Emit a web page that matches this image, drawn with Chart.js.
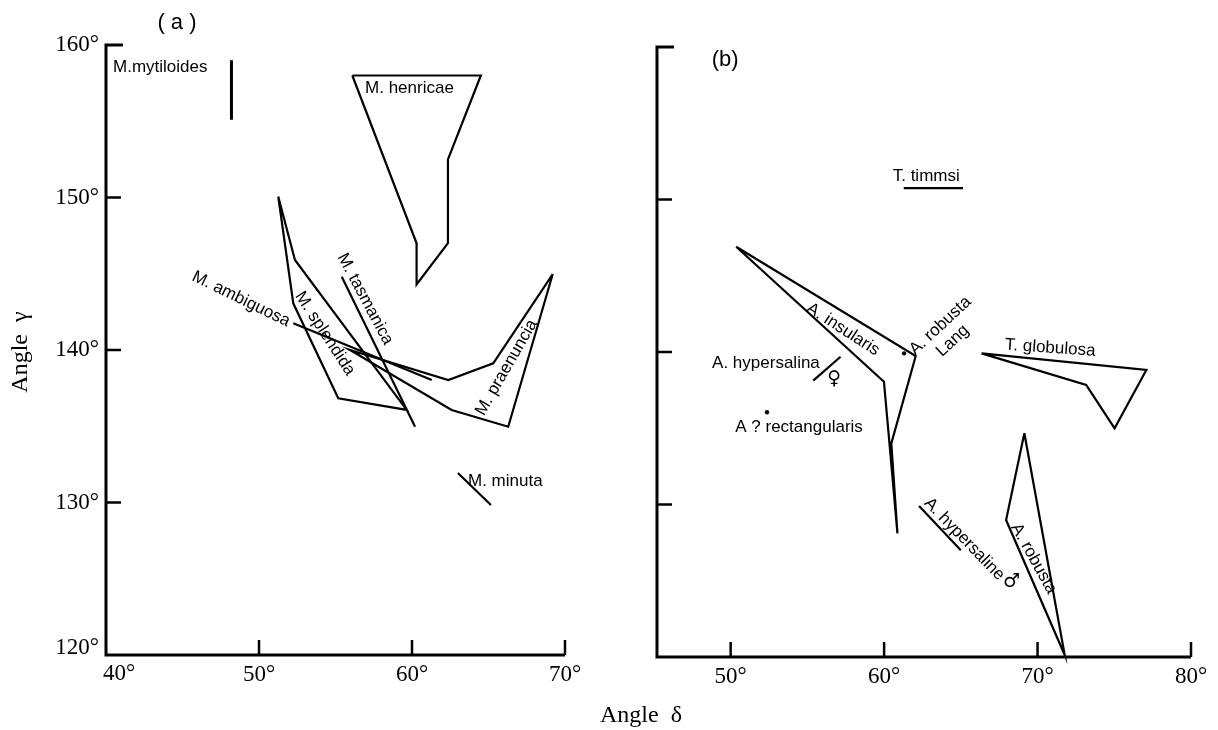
<!DOCTYPE html>
<html><head><meta charset="utf-8">
<script src="https://cdn.jsdelivr.net/npm/chart.js@4.4.1/dist/chart.umd.min.js"></script>
<style>
html,body{margin:0;padding:0;background:#fff;}
#wrap{position:relative;width:1218px;height:730px;overflow:hidden;}
.layer{position:absolute;left:0;top:0;width:1218px;height:730px;}
canvas{display:block;}
</style></head><body>
<div id="wrap">
  <div class="layer"><canvas id="ca" width="1218" height="730"></canvas></div>
  <div class="layer" style="pointer-events:none"><canvas id="cb" width="1218" height="730"></canvas></div>
</div>
<script>
// ---------- tick values ----------
const gammaTicks  = [160, 150, 140, 130, 120];
const deltaTicksA = [40, 50, 60, 70];
const deltaTicksB = [50, 60, 70, 80];

// ---------- panel (a) (angle delta, angle gamma) ----------
const mytiloidesDelta = [48.2, 48.2];
const mytiloidesGamma = [159.0, 155.1];

const henricaeDelta = [56.1, 64.5, 62.35, 62.35, 60.3, 60.3, 56.1];
const henricaeGamma = [158.0, 158.0, 152.5, 147.0, 144.3, 147.0, 158.0];

const splendidaDelta = [51.26, 52.35, 59.65, 55.18, 52.24, 51.26];
const splendidaGamma = [150.05, 145.9, 136.07, 136.83, 143.06, 150.05];

const tasmanicaDelta = [55.41, 60.2];
const tasmanicaGamma = [144.81, 134.97];

const ambiguosaDelta = [52.24, 61.29];
const ambiguosaGamma = [141.75, 138.03];

const praenunciaDelta = [69.2, 65.31, 62.37, 55.95, 62.59, 66.29, 69.2];
const praenunciaGamma = [144.98, 139.13, 138.03, 140.0, 136.07, 134.97, 144.98];

const minutaDelta = [63.0, 65.16];
const minutaGamma = [131.93, 129.84];

// ---------- panel (b) ----------
const timmsiDelta = [61.28, 65.14];
const timmsiGamma = [150.75, 150.75];

const insularisDelta = [50.36, 62.06, 60.47, 60.87, 60.35, 59.99, 50.36];
const insularisGamma = [146.9, 139.74, 134.01, 128.11, 134.0, 138.05, 146.9];

const robustaLangDelta = [61.3];
const robustaLangGamma = [139.91];

const hypersalinaFDelta = [57.16, 55.38];
const hypersalinaFGamma = [139.69, 138.12];

const rectangularisDelta = [52.37];
const rectangularisGamma = [136.05];

const globulosaDelta = [66.35, 77.09, 75.02, 73.17, 66.35];
const globulosaGamma = [139.91, 138.82, 135.0, 137.84, 139.91];

const hypersalineMDelta = [62.28, 65.0];
const hypersalineMGamma = [129.9, 127.0];

const robustaDelta = [69.14, 71.77, 67.95, 69.14];
const robustaGamma = [134.67, 120.13, 128.98, 134.67];

// ---------- species labels (data units, angle in degrees) ----------
const labelsA = [
  {t:'M.mytiloides', d:40.46, g:158.56, a:0, align:'left'},
  {t:'M. henricae',  d:56.93, g:157.18, a:0, align:'left'},
  {t:'M. tasmanica', d:56.93, g:143.34, a:62},
  {t:'M. splendida', d:54.31, g:141.08, a:57},
  {t:'M. ambiguosa', d:48.82, g:143.34, a:26},
  {t:'M. praenuncia',d:66.18, g:138.85, a:-60},
  {t:'M. minuta',    d:63.66, g:131.41, a:0, align:'left'},
  {t:'( a )', d:44.64, g:161.44, a:0, big:true}
];
const labelsB = [
  {t:'(b)', d:49.64, g:159.15, a:0, big:true},
  {t:'T. timmsi',     d:60.56, g:151.54, a:0, align:'left'},
  {t:'A. insularis',  d:57.32, g:141.48, a:33},
  {t:'A. robusta',    d:63.66, g:141.72, a:-43},
  {t:'Lang',          d:64.47, g:140.73, a:-43},
  {t:'A. hypersalina',d:48.79, g:139.28, a:0, align:'left'},
  {t:'\u2640',        d:56.75, g:138.2, a:0, sym:true},
  {t:'A ? rectangularis', d:50.3, g:135.08, a:0, align:'left'},
  {t:'T. globulosa',  d:70.82, g:140.26, a:4},
  {t:'A. hypersaline',d:65.22, g:127.73, a:46},
  {t:'\u2642',        d:68.3, g:124.9, a:0, sym:true},
  {t:'A. robusta',    d:69.75, g:126.45, a:61}
];

// ---------- helpers ----------
function pts(ds, gs){ return ds.map((d,i)=>({x:d, y:gs[i]})); }
function poly(ds, gs, w){ return {data:pts(ds,gs), showLine:true, borderColor:'#000', borderWidth:w||2.2, pointRadius:0, fill:false, clip:false, tension:0}; }
function dots(ds, gs){ return {data:pts(ds,gs), showLine:false, pointRadius:2.2, backgroundColor:'#000', borderWidth:0, clip:false}; }

const SANS = '17px "Liberation Sans", Arial, sans-serif';
const SERIF = '23px "Liberation Serif", "Times New Roman", serif';

const deco = {
  id:'deco',
  afterDatasetsDraw(chart, args, o){
    const ctx = chart.ctx, x = chart.scales.x, y = chart.scales.y;
    const L = x.getPixelForValue(x.min), R = x.getPixelForValue(x.max);
    const T = y.getPixelForValue(y.max), B = y.getPixelForValue(y.min);
    ctx.save();
    ctx.strokeStyle = '#000'; ctx.lineWidth = 3; ctx.lineJoin = 'miter'; ctx.lineCap = 'butt';
    ctx.beginPath(); ctx.moveTo(L+17, T); ctx.lineTo(L, T); ctx.lineTo(L, B); ctx.lineTo(R, B); ctx.stroke();
    ctx.lineWidth = 2.5;
    o.yTicks.forEach(v=>{ if(v===y.max||v===y.min) return; const py=y.getPixelForValue(v); ctx.beginPath(); ctx.moveTo(L,py); ctx.lineTo(L+15,py); ctx.stroke(); });
    o.xTicks.forEach(v=>{ if(v===x.min) return; const px=x.getPixelForValue(v); ctx.beginPath(); ctx.moveTo(px,B); ctx.lineTo(px,B-15); ctx.stroke(); });
    ctx.fillStyle = '#000';
    ctx.font = SERIF;
    if (o.yLabels){
      ctx.textAlign='right'; ctx.textBaseline='middle';
      o.yTicks.forEach(v=>{ let py=y.getPixelForValue(v); if(v===y.min) py-=7; ctx.fillText(v+'\u00B0', L-7, py); });
    }
    ctx.textBaseline='middle';
    o.xTicks.forEach(v=>{
      const px=x.getPixelForValue(v);
      if (v===x.min){ ctx.textAlign='left'; ctx.fillText(v+'\u00B0', L-3, B+19); }
      else { ctx.textAlign='center'; ctx.fillText(v+'\u00B0', px, B+20); }
    });
    // species labels
    o.labels.forEach(l=>{
      const px=x.getPixelForValue(l.d), py=y.getPixelForValue(l.g);
      ctx.save(); ctx.translate(px,py); ctx.rotate(l.a*Math.PI/180);
      ctx.textAlign = l.align||'center'; ctx.textBaseline='middle';
      ctx.font = l.big ? '22px "Liberation Sans", Arial, sans-serif'
               : l.sym ? 'bold 19px "DejaVu Sans", "Noto Sans", sans-serif' : SANS;
      ctx.fillText(l.t, 0, 0); ctx.restore();
    });
    if (o.titles){
      ctx.font = '24px "Liberation Serif", "Times New Roman", serif';
      ctx.textAlign='center'; ctx.textBaseline='middle';
      ctx.fillText('Angle  \u03B4', 641, 716);
      ctx.save(); ctx.translate(21, 352); ctx.rotate(-Math.PI/2); ctx.fillText('Angle  \u03B3', 0, 0); ctx.restore();
    }
    ctx.restore();
  }
};

function makeChart(id, datasets, xmin, xmax, pad, decoOpts){
  return new Chart(document.getElementById(id), {
    type:'scatter',
    data:{datasets},
    options:{
      responsive:false, animation:false, devicePixelRatio:1,
      layout:{padding:pad},
      plugins:{legend:{display:false}, tooltip:{enabled:false}, deco:decoOpts},
      scales:{
        x:{type:'linear', min:xmin, max:xmax, display:false},
        y:{type:'linear', min:120, max:160, display:false}
      }
    },
    plugins:[deco]
  });
}

makeChart('ca', [
  poly(mytiloidesDelta, mytiloidesGamma, 3),
  poly(henricaeDelta, henricaeGamma),
  poly(splendidaDelta, splendidaGamma),
  poly(tasmanicaDelta, tasmanicaGamma),
  poly(ambiguosaDelta, ambiguosaGamma),
  poly(praenunciaDelta, praenunciaGamma),
  poly(minutaDelta, minutaGamma)
], 40, 70, {left:106, top:45, right:653, bottom:75},
  {xTicks:deltaTicksA, yTicks:gammaTicks, yLabels:true, labels:labelsA, titles:true});

makeChart('cb', [
  poly(timmsiDelta, timmsiGamma),
  poly(insularisDelta, insularisGamma),
  dots(robustaLangDelta, robustaLangGamma),
  poly(hypersalinaFDelta, hypersalinaFGamma),
  dots(rectangularisDelta, rectangularisGamma),
  poly(globulosaDelta, globulosaGamma),
  poly(hypersalineMDelta, hypersalineMGamma),
  poly(robustaDelta, robustaGamma)
], 45.2, 80, {left:657, top:47, right:27, bottom:73},
  {xTicks:deltaTicksB, yTicks:gammaTicks, yLabels:false, labels:labelsB, titles:false});
</script>
</body></html>
